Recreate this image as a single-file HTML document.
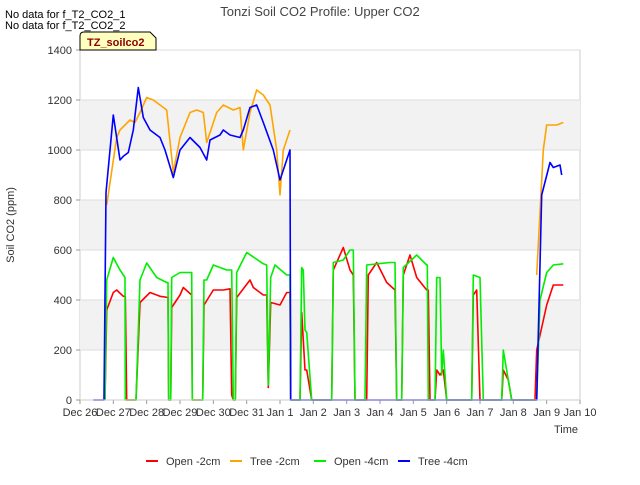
<!DOCTYPE html>
<html><head><meta charset="utf-8"><style>
body{margin:0;background:#fff;font-family:"Liberation Sans",sans-serif}
svg text{font-family:"Liberation Sans",sans-serif}
</style></head><body>
<svg id="c" width="640" height="480" xmlns="http://www.w3.org/2000/svg">
<text x="320" y="16" text-anchor="middle" font-size="13" fill="#444">Tonzi Soil CO2 Profile: Upper CO2</text>
<text x="5" y="18" font-size="11" fill="#000">No data for f_T2_CO2_1</text>
<text x="5" y="29" font-size="11" fill="#000">No data for f_T2_CO2_2</text>
<g id="plot"></g>
<g><path d="M80,50 L80,36 Q80,32 84,32 L150,32 L156,38 L156,50 Z" fill="#ffffc0" stroke="#000" stroke-width="1"/><text x="87" y="46" font-size="11" font-weight="bold" fill="#8b0000">TZ_soilco2</text></g>
<text x="14" y="225" font-size="11" fill="#333" transform="rotate(-90 14 225)" text-anchor="middle">Soil CO2 (ppm)</text>
<text x="566" y="433" font-size="11" fill="#333" text-anchor="middle">Time</text>
<g id="legend"></g>
</svg>
<script>
const xTickLabels=["Dec 26","Dec 27","Dec 28","Dec 29","Dec 30","Dec 31","Jan 1","Jan 2","Jan 3","Jan 4","Jan 5","Jan 6","Jan 7","Jan 8","Jan 9","Jan 10"];
const yTicks=[0,200,400,600,800,1000,1200,1400];
const seriesNames=["Open -2cm","Tree -2cm","Open -4cm","Tree -4cm"];
const seriesColors=["#ff0000","#ffa500","#00ee00","#0000ff"];
// days since Dec 26; null = gap
const openDeep2T=[0.75,0.8,1.0,1.1,1.3,1.36,1.4, 1.68,1.8,2.1,2.4,2.64,2.66, 2.72,2.75,3.0,3.1,3.35,3.37, 3.68,3.72,4.0,4.3,4.5,4.55,4.6, 4.66,4.7,5.1,5.2,5.5,5.6,5.65,5.72,6.0,6.2, 6.3,6.32, 6.6,6.65,6.75,6.8,6.95,7.55, 7.6,7.9,8.1,8.2,8.25, 8.6,8.65,8.9,9.2,9.45,9.5, 9.65,9.7,9.9,10.1,10.4, 10.45,10.5,10.65,10.7,10.8,10.9,11.0, 11.75,11.8,11.9,12.0, 12.65,12.7,12.85,12.95, 13.65,13.7,14.0,14.2,14.5];
const openDeep2V=[0,360,430,440,415,415,0, 0,390,430,415,410,0, 0,370,420,450,420,0, 0,380,440,440,445,20,0, 0,410,480,450,420,420,50,390,380,430, 430,0, 0,350,120,120,0,0, 520,610,520,500,0, 0,500,550,470,440,0, 0,500,580,490,440, 440,0,0,120,100,120,0, 0,420,440,0, 0,120,80,0, 0,200,380,460,460];
const tree2T=[0.8,1.1,1.2,1.35,1.5,1.65,1.8,2.0,2.2,2.4,2.6,2.8,3.0,3.3,3.5,3.7,3.8,4.1,4.3,4.6,4.8,4.9,5.1,5.3,5.5,5.7,5.9,6.0,6.1,6.3,null,13.7,13.9,14.0,14.3,14.5];
const tree2V=[780,1050,1080,1100,1120,1110,1150,1210,1200,1180,1160,910,1050,1150,1160,1150,1030,1150,1180,1160,1170,1000,1150,1240,1220,1180,1000,820,1000,1080,null,500,1000,1100,1100,1110];
const openDeep4T=[0.75,0.8,1.0,1.2,1.35,1.36, 1.68,1.8,2.0,2.3,2.6,2.64,2.66, 2.72,2.75,3.0,3.2,3.35,3.37, 3.68,3.72,3.8,4.0,4.4,4.55,4.6, 4.66,4.7,5.0,5.5,5.6,5.65,5.72,5.85,6.2,6.3,6.32, 6.6,6.65,6.7,6.75,6.8,6.95,7.55, 7.6,7.9,8.1,8.2,8.25, 8.55,8.6,9.3,9.45,9.5, 9.65,9.7,10.1,10.4,10.42,10.45, 10.65,10.7,10.8,10.85,10.9,11.0, 11.75,11.8,12.0,12.1, 12.65,12.7,12.85,12.95, 13.65,13.7,13.8,14.0,14.2,14.5];
const openDeep4V=[0,480,570,520,490,0, 0,480,548,490,470,470,0, 0,490,510,510,510,0, 0,480,480,540,520,520,0, 0,510,590,545,540,60,490,540,500,500,0, 0,530,520,280,270,0,0, 550,560,600,600,0, 0,540,550,550,0, 0,530,580,540,540,0, 0,490,490,100,200,0, 0,500,490,0, 0,200,80,0, 0,0,400,510,540,545];
const tree4T=[0.4,0.72,0.78,1.0,1.2,1.3,1.45,1.6,1.75,1.9,2.1,2.4,2.55,2.8,3.0,3.3,3.6,3.8,3.9,4.2,4.3,4.5,4.8,4.9,5.1,5.3,5.5,5.8,6.0,6.3,6.32,13.7,13.85,14.1,14.2,14.4,14.45];
const tree4V=[0,0,830,1140,960,975,990,1080,1250,1130,1080,1050,1000,890,1000,1050,1010,960,1040,1060,1080,1060,1050,1080,1170,1180,1110,1000,880,1000,0,0,820,950,930,940,900];
const X0=80,X1=580,Y0=400,Y1=50;
const xs=d=>X0+d*(X1-X0)/15;
const ys=v=>Y0-v*(Y0-Y1)/1400;
const NS="http://www.w3.org/2000/svg";
const plot=document.getElementById('plot');
function mk(tag,attrs,parent){const e=document.createElementNS(NS,tag);for(const k in attrs)e.setAttribute(k,attrs[k]);parent.appendChild(e);return e;}
mk('rect',{x:X0,y:Y1,width:X1-X0,height:Y0-Y1,fill:'#fff',stroke:'#ccc'},plot);
for(let i=0;i<yTicks.length-1;i++){
  if(i%2===1){const b=mk('rect',{x:X0,y:ys(yTicks[i+1]),width:X1-X0,height:ys(yTicks[i])-ys(yTicks[i+1]),fill:'#f2f2f2'},plot);
  
  }
}
yTicks.forEach(v=>{
  mk('line',{x1:X0,x2:X1,y1:ys(v),y2:ys(v),stroke:'#ddd'},plot);
  mk('line',{x1:X0-4,x2:X0,y1:ys(v),y2:ys(v),stroke:'#999'},plot);
  const t=mk('text',{x:X0-8,y:ys(v)+4,'text-anchor':'end','font-size':11,fill:'#333'},plot);t.textContent=v;
  
  
});
xTickLabels.forEach((l,i)=>{
  mk('line',{x1:xs(i),x2:xs(i),y1:Y0,y2:Y0+4,stroke:'#999'},plot);
  const t=mk('text',{x:xs(i),y:Y0+16,'text-anchor':'middle','font-size':11,fill:'#333'},plot);t.textContent=l;
  
  
});
function path(T,V){let d='',pen=false;for(let i=0;i<T.length;i++){if(T[i]===null||V[i]===null){pen=false;continue;}d+=(pen?'L':'M')+xs(T[i]).toFixed(1)+','+ys(V[i]).toFixed(1);pen=true;}return d;}
const data=[[openDeep2T,openDeep2V],[tree2T,tree2V],[openDeep4T,openDeep4V],[tree4T,tree4V]];
const slug=["line-open-2cm","line-tree-2cm","line-open-4cm","line-tree-4cm"];
data.forEach((s,i)=>{
  const p=mk('path',{d:path(s[0],s[1]),fill:'none',stroke:seriesColors[i],'stroke-width':1.6,'stroke-linejoin':'round'},plot);
  
  
});
mk('line',{x1:X0,x2:X1,y1:Y0,y2:Y0,stroke:'#ccc'},plot);
const lg=document.getElementById('legend');
const lx=[146,230,314,398];
seriesNames.forEach((n,i)=>{
  const g=mk('g',{},lg);
  
  
  mk('line',{x1:lx[i],x2:lx[i]+12,y1:461,y2:461,stroke:seriesColors[i],'stroke-width':2},g);
  const t=mk('text',{x:lx[i]+20,y:465,'font-size':11,fill:'#333'},g);t.textContent=n;
});
</script>
</body></html>
